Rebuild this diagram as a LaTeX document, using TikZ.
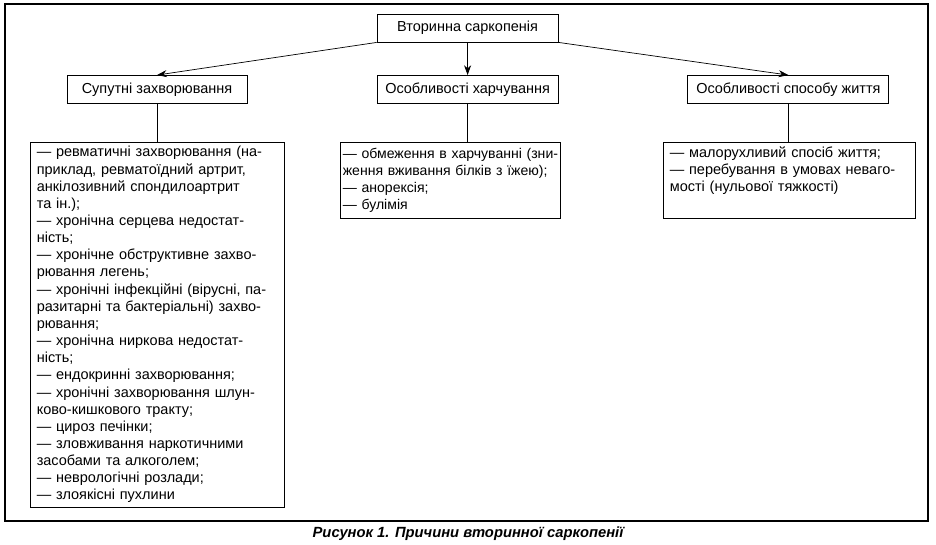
\documentclass[tikz,border=0pt]{standalone}
\usepackage{fontspec}
\setmainfont{Liberation Sans}
\usetikzlibrary{arrows.meta}

\begin{document}
\begin{tikzpicture}[
		headbox/.style={draw, line width=0.6pt, minimum height=0.7cm, inner sep=0pt, font=\fontsize{10.3}{12}\selectfont},
		listbox/.style={draw, line width=0.6pt, anchor=north, align=left, inner xsep=0.17cm, inner ysep=0.1cm, font=\fontsize{10.3}{12.2}\selectfont},
		link/.style={line width=0.5pt},
		arrowlink/.style={link, -{Stealth[length=7pt,width=5pt]}}
	]
				\useasboundingbox (0,0) rectangle (23.4,-13.625);
				\draw[line width=0.8pt] (0.125,-0.1) rectangle (23.2,-13.025);
				% heads
				\node[headbox, minimum width=4.525cm] (top) at (11.69,-0.7) {Вторинна саркопенія};
				\node[headbox, minimum width=4.5cm] (sup) at (3.925,-2.2375) {Супутні захворювання};
				\node[headbox, minimum width=4.525cm] (food) at (11.69,-2.2375) {Особливості харчування};
				\node[headbox, minimum width=5.025cm] (life) at (19.71,-2.2375) {Особливості способу життя};
				% lists
				\node[listbox, text width=6.01cm] (suplist) at (3.925,-3.55) {— ревматичні захворювання (на-\\приклад, ревматоїдний артрит,\\анкілозивний спондилоартрит\\та ін.);\\— хронічна серцева недостат-\\ність;\\— хронічне обструктивне захво-\\рювання легень;\\— хронічні інфекційні (вірусні, па-\\разитарні та бактеріальні) захво-\\рювання;\\— хронічна ниркова недостат-\\ність;\\— ендокринні захворювання;\\— хронічні захворювання шлун-\\ково-кишкового тракту;\\— цироз печінки;\\— зловживання наркотичними\\засобами та алкоголем;\\— неврологічні розлади;\\— злоякісні пухлини};
				\node[listbox, inner xsep=0.07cm, text width=5.36cm, minimum height=1.9cm, font=\fontsize{10}{12.2}\selectfont] (foodlist) at (11.25,-3.55) {\mbox{— обмеження в харчуванні (зни-}\\ження вживання білків з їжею);\\— анорексія;\\— булімія};
				\node[listbox, text width=5.96cm, minimum height=1.9cm] (lifelist) at (19.725,-3.55) {— малорухливий спосіб життя;\\— перебування в умовах неваго-\\мості (нульової тяжкості)\\\strut};
				% connectors
				\draw[arrowlink] (top.south west) -- (sup.north);
				\draw[arrowlink] (top.south) -- (food.north);
				\draw[arrowlink] (top.south east) -- (life.north);
				\draw[link] (sup.south) -- (sup |- suplist.north);
				\draw[link] (food.south) -- (food |- foodlist.north);
				\draw[link] (life.south) -- (life |- lifelist.north);
				\node[font=\bfseries\itshape\fontsize{10.5}{12}\selectfont] (caption) at (11.7,-13.33) {Рисунок 1. Причини вторинної саркопенії};
			\end{tikzpicture}
\end{document}
